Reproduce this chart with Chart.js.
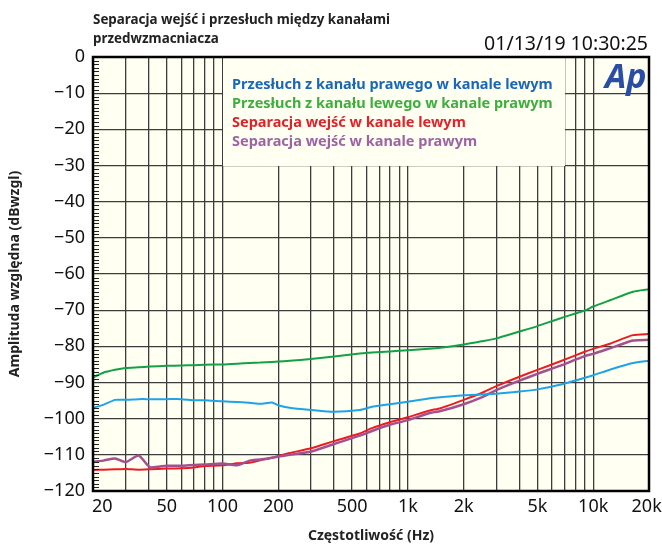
<!DOCTYPE html>
<html>
<head>
<meta charset="utf-8">
<script src="https://cdn.jsdelivr.net/npm/chart.js@4.4.1/dist/chart.umd.min.js"></script>
<style>
  html, body { margin: 0; padding: 0; background: #fff; }
  #wrap { width: 662px; height: 545px; position: relative; }
</style>
</head>
<body>
<div id="wrap"><canvas id="c" width="662" height="545"></canvas></div>
<script>
// Separacja wejść / przesłuch
var freq = [20, 22.7, 26.3, 30, 35.3, 40.5, 50, 60, 70, 80, 100, 120, 140, 160, 185, 200, 230, 300, 400, 550, 640, 800,
  1000, 1300, 1500, 2000, 2500, 3000, 4000, 5000, 6600, 9000, 10000, 12400, 16400, 20000];

var crosstalkRL = [-97.0, -96.2, -94.8, -94.8, -94.6, -94.6, -94.6, -94.6, -94.9, -94.9, -95.2, -95.4, -95.6, -95.9, -95.5, -96.3, -97.0, -97.6, -98.1, -97.6, -96.7, -96.0,
  -95.3, -94.4, -94.1, -93.5, -93.3, -93.1, -92.5, -91.9, -90.6, -88.7, -88.0, -86.4, -84.6, -84.0];

var crosstalkLR = [-88.6, -87.3, -86.5, -86.0, -85.8, -85.6, -85.4, -85.3, -85.2, -85.1, -85.0, -84.8, -84.6, -84.5, -84.3, -84.2, -84.0, -83.5, -82.8, -82.0, -81.7, -81.4,
  -81.1, -80.7, -80.4, -79.5, -78.6, -77.8, -75.9, -74.4, -72.3, -70.1, -69.0, -67.2, -64.9, -64.2];

var sepLeft = [-114.2, -114.1, -114.0, -113.9, -114.1, -114.0, -113.8, -113.7, -113.5, -113.1, -112.9, -112.3, -112.2, -111.5, -110.8, -110.3, -109.5, -108.2, -106.2, -104.1, -102.6, -101.0,
  -99.6, -97.8, -97.1, -94.8, -92.9, -91.0, -88.4, -86.5, -84.2, -81.5, -80.7, -79.2, -76.9, -76.6];

var sepRight = [-111.9, -111.6, -111.0, -112.0, -110.2, -113.4, -113.0, -113.0, -112.8, -112.7, -112.4, -112.9, -111.6, -111.3, -110.8, -110.5, -110.0, -109.1, -107.0, -104.7, -103.4, -101.7,
  -100.4, -98.5, -97.9, -96.0, -94.1, -92.1, -89.5, -87.6, -85.4, -82.7, -82.1, -80.5, -78.4, -78.2];

var seriesNames = [
  'Przesłuch z kanału prawego w kanale lewym',
  'Przesłuch z kanału lewego w kanale prawym',
  'Separacja wejść w kanale lewym',
  'Separacja wejść w kanale prawym'
];

var xGridValues = [20, 30, 40, 50, 60, 70, 80, 90, 100, 200, 300, 400, 500, 600, 700, 800, 900,
  1000, 2000, 3000, 4000, 5000, 6000, 7000, 8000, 9000, 10000, 20000];
var xTickValues = [20, 50, 100, 200, 500, 1000, 2000, 5000, 10000, 20000];
var xTickLabels = ['20', '50', '100', '200', '500', '1k', '2k', '5k', '10k', '20k'];

var chartTitle = ['Separacja wejść i przesłuch między kanałami', 'przedwzmacniacza'];
var timestamp = '01/13/19 10:30:25';

var FONT = '"Noto Sans", "Open Sans", sans-serif';
var lineColors = ['#1ea3e6', '#14a046', '#ec1c24', '#a4508f'];
var textColors = ['#1a67b8', '#3fae3f', '#e0232a', '#9c64a4'];
var PLOT_BG = '#fffff2';

function pts(vals) {
  return freq.map(function (f, i) { return { x: f, y: vals[i] }; });
}

var decorPlugin = {
  id: 'decor',
  beforeDraw: function (chart) {
    var a = chart.chartArea, ctx = chart.ctx;
    ctx.save();
    ctx.fillStyle = PLOT_BG;
    ctx.fillRect(a.left, a.top, a.right - a.left, a.bottom - a.top);
    ctx.restore();
  },
  afterDraw: function (chart) {
    var a = chart.chartArea, ctx = chart.ctx;
    var yScale = chart.scales.y;
    ctx.save();

    // legend box covering the grid
    ctx.fillStyle = PLOT_BG;
    ctx.fillRect(223, a.top + 1, 342, 108);
    ctx.font = 'bold 14.5px ' + FONT;
    ctx.textBaseline = 'middle';
    for (var i = 0; i < seriesNames.length; i++) {
      ctx.fillStyle = textColors[i];
      ctx.fillText(seriesNames[i], 232, 85 + i * 19);
    }

    // minor ticks every 1 dB on left axis
    ctx.strokeStyle = '#222';
    ctx.lineWidth = 1;
    for (var v = -120; v <= 0; v++) {
      var y = Math.round(yScale.getPixelForValue(v)) + 0.5;
      ctx.beginPath();
      ctx.moveTo(a.left, y);
      ctx.lineTo(a.left + (v % 10 === 0 ? 0 : 6), y);
      ctx.stroke();
    }

    // plot frame
    ctx.strokeStyle = '#000';
    ctx.lineWidth = 2.5;
    ctx.strokeRect(a.left, a.top, a.right - a.left, a.bottom - a.top);

    // title and timestamp
    ctx.fillStyle = '#222';
    ctx.font = 'bold 13.4px ' + FONT;
    ctx.textBaseline = 'middle';
    ctx.textAlign = 'left';
    ctx.fillText(chartTitle[0], 93, 20);
    ctx.fillText(chartTitle[1], 93, 39);
    ctx.font = '19.5px ' + FONT;
    ctx.textAlign = 'right';
    ctx.fillStyle = '#111';
    ctx.fillText(timestamp, 648, 44);

    // Ap logo
    ctx.font = 'italic bold 34px ' + FONT;
    ctx.textAlign = 'left';
    ctx.textBaseline = 'alphabetic';
    ctx.fillStyle = '#2a4ea6';
    ctx.fillText('Ap', 605, 88);
    ctx.restore();
  }
};

var ctx = document.getElementById('c').getContext('2d');
new Chart(ctx, {
  type: 'line',
  data: {
    datasets: [
      { label: seriesNames[0], data: pts(crosstalkRL), borderColor: lineColors[0], borderWidth: 2 },
      { label: seriesNames[1], data: pts(crosstalkLR), borderColor: lineColors[1], borderWidth: 2 },
      { label: seriesNames[3], data: pts(sepRight), borderColor: lineColors[3], borderWidth: 2.5 },
      { label: seriesNames[2], data: pts(sepLeft), borderColor: lineColors[2], borderWidth: 2 }
    ]
  },
  options: {
    responsive: false,
    animation: false,
    events: [],
    layout: { padding: { top: 57, right: 13, bottom: 0, left: 4 } },
    elements: {
      point: { radius: 0 },
      line: { tension: 0.2, fill: false }
    },
    plugins: {
      legend: { display: false },
      tooltip: { enabled: false }
    },
    scales: {
      x: {
        type: 'logarithmic',
        min: 20,
        max: 20000,
        afterBuildTicks: function (s) {
          s.ticks = xGridValues.map(function (v) { return { value: v }; });
        },
        afterFit: function (s) {
          s.height = 54;
          s.paddingLeft = 0;
          s.paddingRight = 0;
        },
        ticks: {
          autoSkip: false,
          maxRotation: 0,
          padding: 5,
          color: '#111',
          font: { family: FONT, size: 18 },
          callback: function (v) {
            var k = xTickValues.indexOf(v);
            if (k < 0) return '';
            // edge labels sit slightly inside the frame, as in the original
            if (k === 0) return '    ' + xTickLabels[k];
            if (k === xTickValues.length - 1) return xTickLabels[k] + ' ';
            return xTickLabels[k];
          }
        },
        grid: { color: '#3c3c3c', lineWidth: 1.3, drawTicks: false },
        border: { display: false },
        title: {
          display: true,
          text: 'Częstotliwość (Hz)',
          color: '#222',
          font: { family: FONT, size: 14, weight: 'bold' },
          padding: { top: 2, bottom: 1 }
        }
      },
      y: {
        min: -120,
        max: 0,
        afterFit: function (s) { s.width = 89; },
        ticks: {
          stepSize: 10,
          padding: 8,
          color: '#111',
          font: { family: FONT, size: 18 },
          callback: function (v) { return v < 0 ? '\u2212' + Math.abs(v) : String(v); }
        },
        grid: { color: '#3c3c3c', lineWidth: 1.3, drawTicks: false },
        border: { display: false },
        title: {
          display: true,
          text: 'Amplituda względna (dBwzgl)',
          color: '#222',
          font: { family: FONT, size: 14, weight: 'bold' },
          padding: { top: 3, bottom: 3 }
        }
      }
    }
  },
  plugins: [decorPlugin]
});
</script>
</body>
</html>
